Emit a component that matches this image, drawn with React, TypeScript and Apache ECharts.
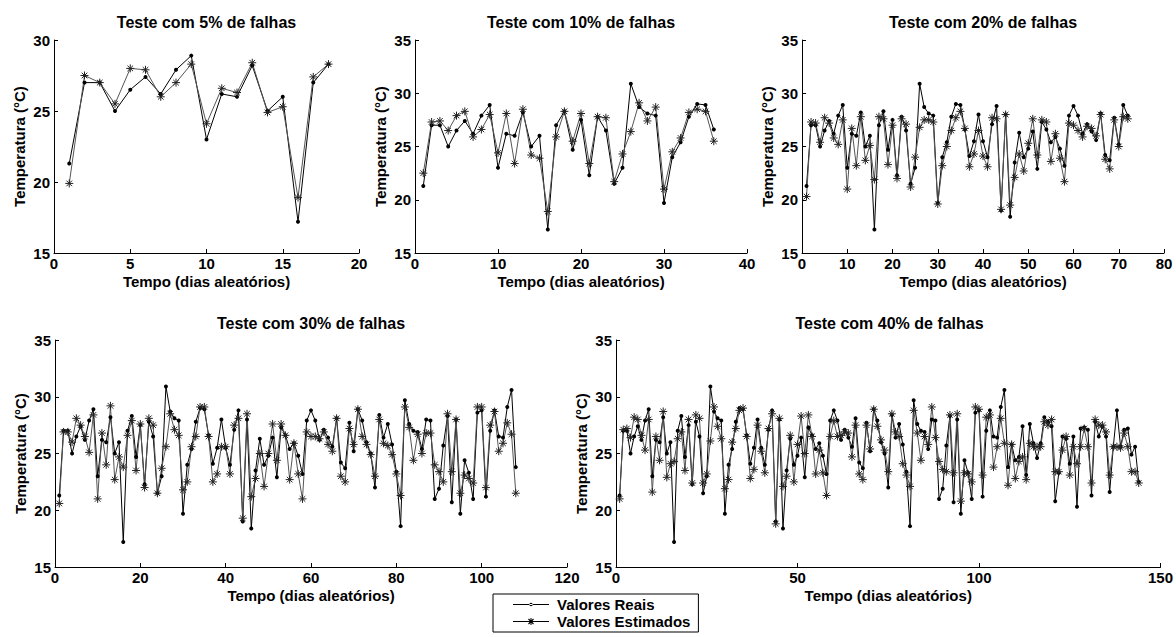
import React, { useEffect, useRef } from 'react';
import * as echarts from 'echarts';

// Real temperature series (common to all tests; each test uses its first N days)
const REAL = [
  21.3, 27.0, 27.0, 25.0, 26.5, 27.4, 26.2, 27.9, 28.9, 23.0,
  26.2, 26.0, 28.2, 25.0, 26.0, 17.2, 27.0, 28.3, 24.7, 27.5,
  22.3, 27.8, 26.5, 21.5, 23.0, 30.9, 28.7, 28.1, 27.9, 19.7,
  24.0, 25.4, 27.8, 29.0, 28.9, 26.6, 24.1, 25.5, 28.0, 25.5,
  24.0, 27.1, 28.8, 19.0, 28.0, 18.4, 23.5, 26.3, 24.0, 24.8,
  26.4, 22.9, 27.3, 26.6, 25.4, 25.9, 24.8, 23.2, 27.9, 28.8,
  27.9, 26.2, 27.1, 26.4, 25.6, 28.1, 24.2, 23.7, 27.7, 25.2,
  28.9, 27.9, 26.0, 25.0, 22.0, 28.4, 26.4, 27.6, 25.8, 23.4,
  18.6, 29.7, 27.6, 27.0, 26.9, 25.4, 28.0, 27.9, 21.0, 21.9,
  25.7, 28.3, 20.7, 28.0, 19.7, 24.4, 23.3, 21.0, 28.6, 28.8,
  21.2, 27.0, 28.8, 26.5, 26.4, 29.1, 30.6, 23.8, 25.8, 24.4,
  24.7, 27.4, 23.1, 27.6, 25.9, 24.6, 25.9, 28.2, 27.8, 27.4,
  20.8, 23.3, 26.5, 26.3, 24.1, 26.5, 20.3, 27.2, 27.3, 27.1,
  21.3, 27.8, 26.5, 27.4, 26.5, 21.6, 25.6, 28.8, 25.6, 27.1,
  27.2, 24.9, 25.6, 22.5,
];

const EST_5 = [19.9, 27.5, 27.0, 25.5, 28.0, 27.9, 26.0, 27.0, 28.3, 24.1, 26.6, 26.3, 28.4, 24.9, 25.3, 18.9, 27.4, 28.3];

const EST_10 = [
  22.5, 27.3, 27.4, 26.5, 27.9, 28.3, 25.9, 26.6, 28.0, 24.4,
  28.1, 23.4, 28.5, 24.2, 23.9, 18.9, 25.9, 28.3, 25.5, 28.1,
  23.4, 27.8, 27.7, 21.7, 24.3, 26.4, 29.1, 27.4, 28.7, 21.0,
  24.5, 25.8, 28.2, 28.5, 28.3, 25.5,
];

const EST_20 = [
  20.3, 27.3, 27.2, 25.4, 27.7, 27.2, 25.8, 25.2, 27.5, 21.0,
  26.7, 23.2, 27.8, 23.7, 25.1, 21.9, 27.8, 27.6, 23.3, 27.0,
  22.0, 27.6, 27.1, 21.2, 24.0, 26.8, 27.5, 27.5, 27.3, 19.6,
  23.2, 25.0, 26.5, 27.7, 28.3, 26.7, 23.1, 24.3, 26.5, 24.1,
  23.1, 27.7, 27.6, 19.1, 28.0, 19.5, 22.1, 24.3, 22.7, 25.3,
  27.6, 24.2, 27.5, 27.3, 23.6, 26.2, 23.9, 21.7, 27.2, 27.0,
  26.5, 25.9, 26.9, 26.7, 26.0, 28.0, 23.8, 22.9, 27.5, 25.0,
  27.8, 27.6,
];

const EST_30 = [
  20.6, 26.9, 26.9, 26.0, 28.1, 27.5, 26.5, 25.1, 28.4, 21.0,
  26.8, 24.0, 29.2, 22.7, 24.7, 23.8, 26.6, 27.9, 23.5, 27.6,
  22.0, 28.1, 27.5, 21.5, 23.7, 25.6, 28.5, 27.1, 26.6, 21.8,
  22.5, 25.6, 26.5, 29.1, 29.1, 26.5, 22.5, 23.2, 25.6, 25.6,
  23.2, 27.5, 28.1, 19.3, 28.5, 21.2, 22.8, 25.0, 22.1, 25.0,
  27.6, 24.4, 27.6, 26.6, 22.7, 25.9, 23.2, 21.0, 26.9, 26.5,
  26.5, 26.3, 26.9, 25.8, 25.2, 28.1, 23.0, 22.5, 27.2, 25.8,
  28.9, 26.5, 25.8, 24.9, 23.0, 28.0, 25.9, 25.7, 24.9, 23.2,
  21.3, 29.1, 27.3, 24.4, 26.7, 25.0, 26.8, 26.8, 24.0, 23.4,
  22.5, 28.5, 23.4, 28.0, 21.5, 23.1, 22.8, 22.4, 29.1, 29.1,
  22.0, 27.5, 28.7, 25.2, 25.9, 27.7, 26.7, 21.5,
];

const EST_40 = [
  21.0, 27.1, 27.2, 26.4, 28.2, 28.0, 26.6, 25.3, 28.0, 21.6,
  26.5, 24.4, 28.7, 22.9, 24.1, 24.3, 26.3, 26.9, 23.5, 28.0,
  22.4, 28.4, 28.1, 22.4, 23.2, 26.1, 29.1, 27.4, 26.3, 21.9,
  22.7, 26.0, 27.2, 28.8, 29.0, 26.5, 22.8, 23.6, 27.5, 25.2,
  23.3, 27.2, 28.5, 18.8, 28.1, 22.1, 23.0, 26.6, 22.5, 25.8,
  28.3, 25.0, 28.4, 26.5, 23.2, 25.3, 23.3, 21.3, 26.5, 27.9,
  26.5, 26.6, 26.9, 26.8, 24.7, 27.5, 23.2, 22.7, 27.5, 25.4,
  28.9, 27.4, 26.2, 25.3, 23.4, 28.5, 26.9, 26.5, 24.1, 23.1,
  22.1, 28.8, 26.8, 24.4, 26.5, 25.8, 29.1, 26.4, 24.3, 23.6,
  23.4, 28.4, 23.3, 28.5, 20.8, 23.3, 23.2, 22.5, 29.1, 28.9,
  23.1, 28.2, 28.4, 23.8, 25.6, 28.1, 25.9, 22.2, 25.8, 22.8,
  24.3, 24.7, 22.7, 25.9, 25.6, 25.6, 25.6, 27.8, 27.5, 28.0,
  23.4, 23.4, 25.3, 26.5, 23.1, 25.6, 24.1, 25.6, 27.2, 25.6,
  22.4, 28.0, 27.5, 27.5, 26.9, 23.1, 25.6, 25.6, 25.5, 26.8,
  25.6, 23.4, 23.4, 22.4,
];

const TITLES = [
  'Teste com 5% de falhas',
  'Teste com 10% de falhas',
  'Teste com 20% de falhas',
  'Teste com 30% de falhas',
  'Teste com 40% de falhas',
];
const ESTIMATES = [EST_5, EST_10, EST_20, EST_30, EST_40];
const X_MAX = [20, 40, 80, 120, 150];
const X_STEP = [5, 10, 10, 20, 50];
const Y_MIN = 15;
const Y_MAX = [30, 35, 35, 35, 35];
const Y_STEP = 5;

const X_NAME = 'Tempo (dias aleatórios)';
const Y_NAME = 'Temperatura (°C)';
const NAME_REAL = 'Valores Reais';
const NAME_EST = 'Valores Estimados';

// layout in pixels
const GRIDS = [
  { left: 54, top: 40, width: 305, height: 213 },
  { left: 415, top: 40, width: 332, height: 213 },
  { left: 802, top: 40, width: 362, height: 213 },
  { left: 55, top: 340, width: 512, height: 227 },
  { left: 616, top: 340, width: 547, height: 227 },
];

const FONT = '"Liberation Sans", Arial, Helvetica, sans-serif';
const STAR = 'path://M5,0L5,10M0,5L10,5M1.5,1.5L8.5,8.5M1.5,8.5L8.5,1.5';
const ICON_REAL = 'path://M0,0ZM36,12ZM0,5.5L36,5.5L36,6.5L0,6.5ZM16.3,6A1.7,1.7,0,1,0,19.7,6A1.7,1.7,0,1,0,16.3,6Z';
const ICON_EST = 'path://M0,0ZM36,12ZM0,5.5L36,5.5L36,6.5L0,6.5ZM17.5,2.5L18.5,2.5L18.5,9.5L17.5,9.5ZM15.1,3.9L15.9,3.1L20.9,8.1L20.1,8.9ZM15.1,8.1L20.1,3.1L20.9,3.9L15.9,8.9Z';

function buildOption() {
  const axisText = { color: '#000', fontFamily: FONT, fontWeight: 'bold' as const, fontSize: 15 };
  const grid = GRIDS.map((g) => ({ ...g, containLabel: false }));
  const xAxis = GRIDS.map((_, i) => ({
    type: 'value' as const,
    gridIndex: i,
    min: 0,
    max: X_MAX[i],
    interval: X_STEP[i],
    name: X_NAME,
    nameLocation: 'middle' as const,
    nameGap: 21,
    nameTextStyle: { ...axisText, verticalAlign: 'top' as const },
    axisLine: { show: true, onZero: false, lineStyle: { color: '#000', width: 1 } },
    axisTick: { show: true, inside: true, length: 4, lineStyle: { color: '#000' } },
    axisLabel: { ...axisText, margin: 3 },
    splitLine: { show: false },
  }));
  const yAxis = GRIDS.map((_, i) => ({
    type: 'value' as const,
    gridIndex: i,
    min: Y_MIN,
    max: Y_MAX[i],
    interval: Y_STEP,
    name: Y_NAME,
    nameLocation: 'middle' as const,
    nameRotate: 90,
    nameGap: 27,
    nameTextStyle: axisText,
    axisLine: { show: true, onZero: false, lineStyle: { color: '#000', width: 1 } },
    axisTick: { show: true, inside: true, length: 4, lineStyle: { color: '#000' } },
    axisLabel: { ...axisText, margin: 4 },
    splitLine: { show: false },
  }));
  const series: any[] = [];
  ESTIMATES.forEach((est, i) => {
    const n = est.length;
    const realData = REAL.slice(0, n).map((v, k) => [k + 1, v]);
    const estData = est.map((v, k) => [k + 1, v]);
    series.push({
      type: 'line',
      name: NAME_REAL,
      xAxisIndex: i,
      yAxisIndex: i,
      data: realData,
      symbol: 'circle',
      symbolSize: 4,
      showSymbol: true,
      itemStyle: { color: '#000', borderWidth: 0 },
      lineStyle: { color: '#000', width: 1 },
      emphasis: { disabled: true },
    });
    series.push({
      type: 'line',
      name: NAME_EST,
      xAxisIndex: i,
      yAxisIndex: i,
      data: estData,
      symbol: STAR,
      symbolSize: 8,
      showSymbol: true,
      itemStyle: { color: '#000', borderColor: '#222', borderWidth: 1 },
      lineStyle: { color: '#555', width: 1 },
      emphasis: { disabled: true },
    });
  });
  const titleCenters = GRIDS.map((g, i) => ({ x: g.left + g.width / 2, y: i < 3 ? 22 : 323 }));
  const graphic = TITLES.map((t, i) => ({
    type: 'text',
    x: titleCenters[i].x,
    y: titleCenters[i].y,
    style: {
      text: t,
      fill: '#000',
      font: `bold 16px ${FONT}`,
      align: 'center',
      verticalAlign: 'middle',
    },
  }));
  return {
    animation: false,
    backgroundColor: '#fff',
    grid,
    xAxis,
    yAxis,
    series,
    graphic,
    legend: {
      data: [
        { name: NAME_REAL, icon: ICON_REAL },
        { name: NAME_EST, icon: ICON_EST },
      ],
      orient: 'vertical',
      left: 493,
      top: 594,
      padding: [3, 8, 3, 20],
      itemWidth: 36,
      itemHeight: 12,
      itemGap: 2,
      borderColor: '#000',
      borderWidth: 1,
      borderRadius: 0,
      backgroundColor: '#fff',
      selectedMode: false,
      itemStyle: { color: '#000', borderWidth: 0 },
      textStyle: { color: '#000', fontFamily: FONT, fontWeight: 'bold', fontSize: 15, padding: [0, 0, 0, 3] },
    },
  };
}

export default function App() {
  const ref = useRef<HTMLDivElement>(null);
  useEffect(() => {
    if (!ref.current) return;
    const chart = echarts.init(ref.current, undefined, { renderer: 'svg' });
    chart.setOption(buildOption() as any);
    return () => chart.dispose();
  }, []);
  return (
    <div
      ref={ref}
      style={{ position: 'fixed', left: 0, top: 0, width: 1176, height: 637, background: '#fff' }}
    />
  );
}
